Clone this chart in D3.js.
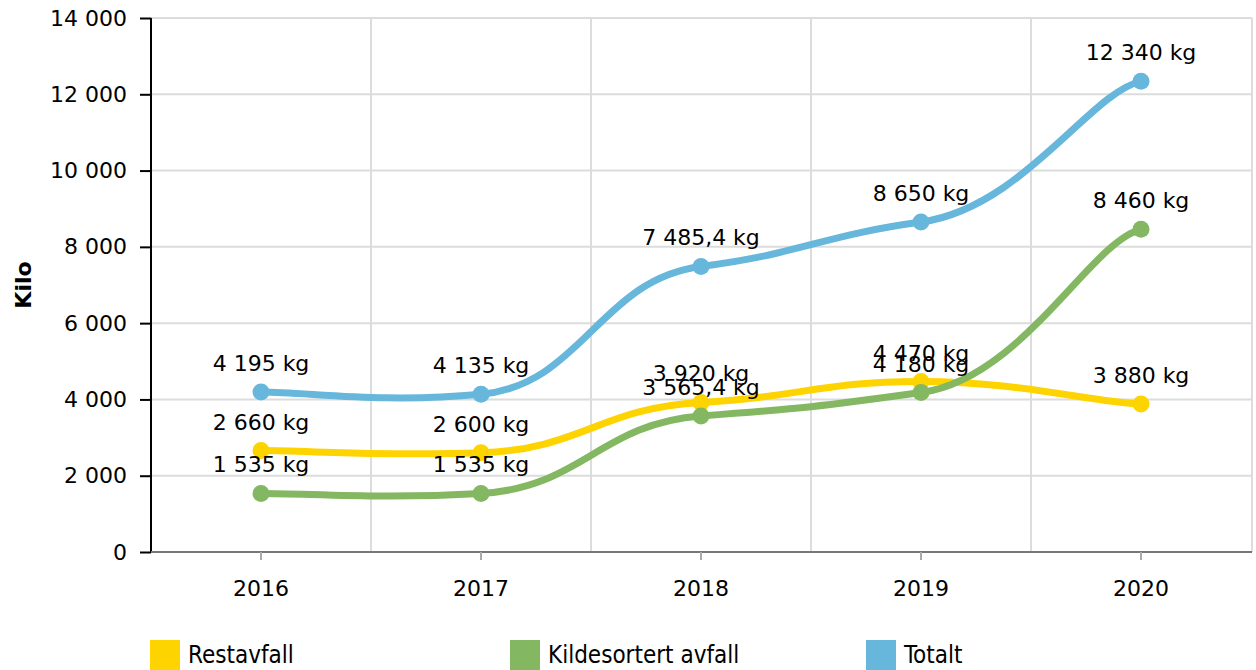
<!DOCTYPE html>
<html>
<head>
<meta charset="utf-8">
<script src="https://cdn.jsdelivr.net/npm/d3@7"></script>
<style>
  body { margin: 0; background: #fff; }
  svg { display: block; font-family: "DejaVu Sans", Verdana, sans-serif; }
</style>
</head>
<body>
<svg id="chart" width="1256" height="670"></svg>
<script>
var years = ['2016', '2017', '2018', '2019', '2020'];
var restavfall = [2660, 2600, 3920, 4470, 3880];
var kildesortert = [1535, 1535, 3565.4, 4180, 8460];
var totalt = [4195, 4135, 7485.4, 8650, 12340];
var yTicks = [0, 2000, 4000, 6000, 8000, 10000, 12000, 14000];

var series = [
  { name: 'Restavfall', color: '#FDD400', values: restavfall },
  { name: 'Kildesortert avfall', color: '#84B761', values: kildesortert },
  { name: 'Totalt', color: '#67B7DC', values: totalt }
];

var plotL = 151, plotR = 1251, plotT = 18, plotB = 552;

var svg = d3.select('#chart');

var x = d3.scaleBand().domain(years).range([plotL, plotR]);
var y = d3.scaleLinear().domain([0, 14000]).range([plotB, plotT]);

var fmtNum = function(v) {
  var s = d3.format(',')(Math.floor(v)).replace(/,/g, ' ');
  var dec = Math.round((v - Math.floor(v)) * 10);
  return dec ? s + ',' + dec : s;
};

// smoothed line, separate x / y tension (flat handles, S-shaped segments)
function tensionPath(pts, tx, ty) {
  var p = d3.path();
  p.moveTo(pts[0][0], pts[0][1]);
  for (var i = 0; i < pts.length - 1; i++) {
    var p0 = pts[i - 1] || pts[i];
    var p1 = pts[i];
    var p2 = pts[i + 1];
    var p3 = pts[i + 2] || pts[i + 1];
    p.bezierCurveTo(
      p1[0] + tx * (p2[0] - p0[0]), p1[1] + ty * (p2[1] - p0[1]),
      p2[0] - tx * (p3[0] - p1[0]), p2[1] - ty * (p3[1] - p1[1]),
      p2[0], p2[1]);
  }
  return p.toString();
}

// grid
var grid = svg.append('g');
grid.selectAll('line.h')
  .data(yTicks.filter(function(d) { return d > 0; }))
  .enter().append('line')
  .attr('x1', plotL).attr('x2', plotR + 1)
  .attr('y1', function(d) { return y(d); })
  .attr('y2', function(d) { return y(d); })
  .attr('stroke', '#dcdcdc').attr('stroke-width', 2);

grid.selectAll('line.v')
  .data(years.slice(1).concat(['end']))
  .enter().append('line')
  .attr('x1', function(d) { return d == 'end' ? plotR + 1 : x(d); })
  .attr('x2', function(d) { return d == 'end' ? plotR + 1 : x(d); })
  .attr('y1', plotT).attr('y2', plotB)
  .attr('stroke', '#dcdcdc').attr('stroke-width', 2);

// y axis
var yAxis = svg.append('g')
  .attr('transform', 'translate(' + plotL + ',0)')
  .call(d3.axisLeft(y).tickValues(yTicks).tickSize(11).tickPadding(13)
    .tickFormat(function(d) { return fmtNum(d); }));
yAxis.select('.domain').attr('stroke', '#000').attr('stroke-width', 2).attr('d', 'M0,' + plotT + 'V' + plotB);
yAxis.selectAll('.tick line').attr('stroke', '#000').attr('stroke-width', 2);
yAxis.selectAll('text').attr('font-size', 22).attr('fill', '#000').attr('font-family', '"DejaVu Sans", Verdana, sans-serif');

// x axis
var xAxis = svg.append('g')
  .attr('transform', 'translate(0,' + plotB + ')')
  .call(d3.axisBottom(x).tickSize(8).tickPadding(20));
xAxis.select('.domain').attr('stroke', '#777').attr('stroke-width', 2).attr('d', 'M' + plotL + ',0H' + (plotR + 1));
xAxis.selectAll('.tick line').attr('stroke', '#aaa').attr('stroke-width', 2);
xAxis.selectAll('text').attr('font-size', 22).attr('fill', '#000').attr('font-family', '"DejaVu Sans", Verdana, sans-serif');

// axis title
svg.append('text')
  .attr('transform', 'translate(31,285) rotate(-90)')
  .attr('text-anchor', 'middle')
  .attr('font-size', 22).attr('font-weight', 'bold')
  .text('Kilo');

var cx = function(d, i) { return x(years[i]) + x.bandwidth() / 2; };

// blue first, then yellow, green on top
var drawOrder = [series[2], series[0], series[1]];
drawOrder.forEach(function(s) {
  var g = svg.append('g');
  var pts = s.values.map(function(d, i) { return [cx(d, i), y(d)]; });
  g.append('path')
    .attr('d', tensionPath(pts, 0.23, 0.075))
    .attr('fill', 'none')
    .attr('stroke', s.color)
    .attr('stroke-width', 7);
  g.selectAll('circle')
    .data(s.values)
    .enter().append('circle')
    .attr('cx', cx)
    .attr('cy', function(d) { return y(d); })
    .attr('r', 8.5)
    .attr('fill', s.color);
});

series.forEach(function(s) {
  svg.append('g').selectAll('text')
    .data(s.values)
    .enter().append('text')
    .attr('x', cx)
    .attr('y', function(d) { return y(d) - 21; })
    .attr('text-anchor', 'middle')
    .attr('font-size', 22)
    .attr('fill', '#000')
    .text(function(d) { return fmtNum(d) + ' kg'; });
});

// legend
var legendX = [150, 510, 866];
var legend = svg.append('g');
series.forEach(function(s, i) {
  legend.append('rect')
    .attr('x', legendX[i]).attr('y', 640)
    .attr('width', 30).attr('height', 30)
    .attr('fill', s.color);
  legend.append('text')
    .attr('x', legendX[i] + 38).attr('y', 663)
    .attr('font-size', 24)
    .attr('font-family', '"DejaVu Sans Condensed", "Liberation Sans Narrow", sans-serif')
    .attr('fill', '#000')
    .text(s.name);
});
</script>
</body>
</html>
